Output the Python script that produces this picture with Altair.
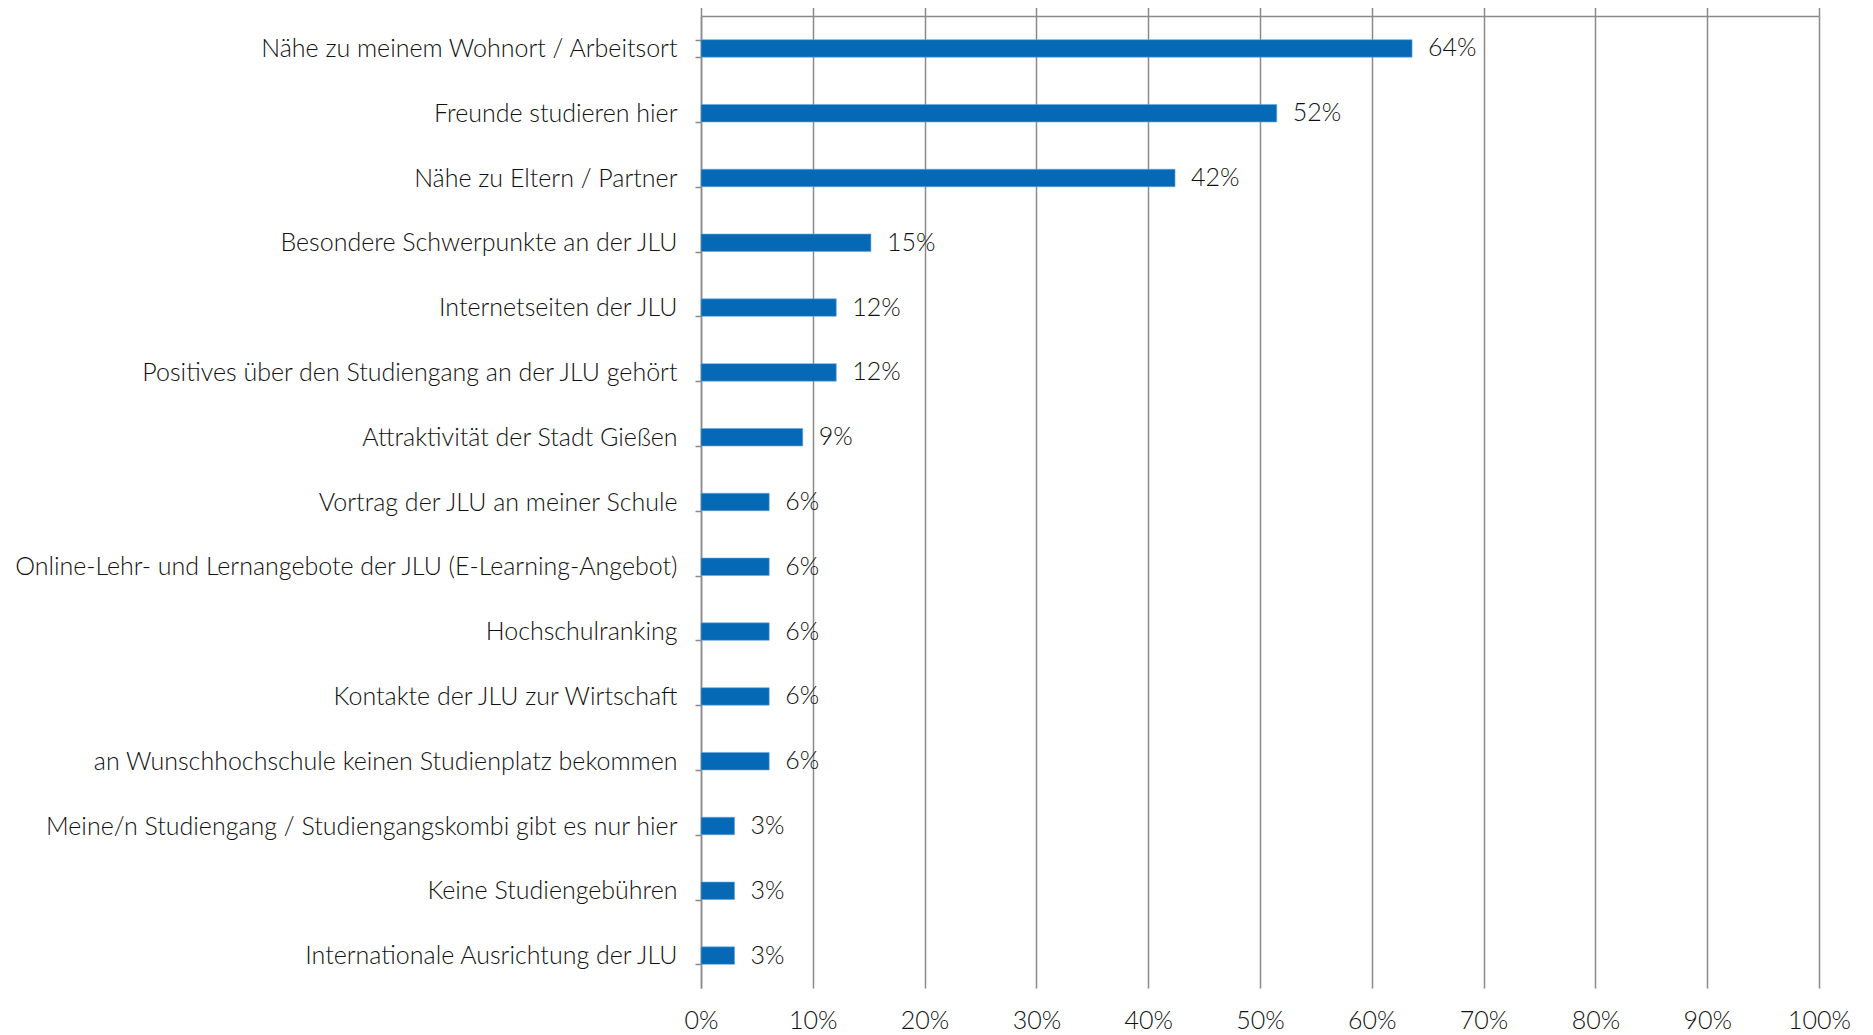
import altair as alt
import pandas as pd

categories = [
    "Nähe zu meinem Wohnort / Arbeitsort\u2002",
    "Freunde studieren hier",
    "Nähe zu Eltern / Partner",
    "Besondere Schwerpunkte an der JLU",
    "Internetseiten der JLU",
    "Positives über den Studiengang an der JLU gehört",
    "Attraktivität der Stadt Gießen\u2002",
    "Vortrag der JLU an meiner Schule",
    "Online-Lehr- und Lernangebote der JLU (E-Learning-Angebot)",
    "Hochschulranking\u2002",
    "Kontakte der JLU zur Wirtschaft\u2002",
    "an Wunschhochschule keinen Studienplatz bekommen",
    "Meine/n Studiengang / Studiengangskombi gibt es nur hier",
    "Keine Studiengebühren\u2002",
    "Internationale Ausrichtung der JLU",
]
values = [63.6, 51.5, 42.4, 15.2, 12.1, 12.1, 9.1, 6.1, 6.1, 6.1, 6.1, 6.1, 3.0, 3.0, 3.0]
value_labels = ["64%", "52%", "42%", "15%", "12%", "12%", "9%", "6%", "6%", "6%", "6%", "6%", "3%", "3%", "3%"]
x_ticks = [0, 10, 20, 30, 40, 50, 60, 70, 80, 90, 100]

df = pd.DataFrame({"cat": categories, "v": values, "lbl": value_labels})

FONT = "Lato"
FS = 25
GRAY = "#8a8a8a"
BLUE = "#0569b6"
TXT = "#111111"

y_enc = alt.Y(
    "cat:N",
    sort=categories,
    title=None,
    scale=alt.Scale(paddingInner=0.73, paddingOuter=0.365),
    axis=alt.Axis(
        orient="left",
        domain=True,
        domainColor=GRAY,
        domainWidth=1.5,
        ticks=True,
        tickBand="extent",
        tickColor=GRAY,
        tickWidth=1.5,
        tickSize=6,
        labelPadding=18,
        labelFont=FONT,
        labelFontWeight=300,
        labelFontSize=FS,
        labelColor=TXT,
        labelLimit=900,
        grid=False,
    ),
)

x_scale = alt.Scale(domain=[0, 100], nice=False)

bars = alt.Chart(df).mark_bar(color=BLUE, stroke="#6aa6da", strokeWidth=0.6).encode(
    x=alt.X(
        "v:Q",
        scale=x_scale,
        title=None,
        axis=alt.Axis(
            orient="bottom",
            values=x_ticks,
            labelExpr="datum.value + '%'",
            domain=False,
            ticks=False,
            grid=True,
            gridColor=GRAY,
            gridWidth=1.5,
            labelPadding=20,
            labelFont=FONT,
            labelFontWeight=300,
            labelFontSize=FS,
            labelColor=TXT,
            labelFlush=False,
        ),
    ),
    y=y_enc,
)

texts = alt.Chart(df).mark_text(
    align="left", baseline="middle", dx=16, font=FONT, fontWeight=300, fontSize=FS, color=TXT
).encode(
    x=alt.X(
        "v:Q",
        scale=x_scale,
        title=None,
        axis=alt.Axis(
            orient="top",
            values=x_ticks,
            labels=False,
            domain=True,
            domainColor=GRAY,
            domainWidth=1.5,
            ticks=True,
            tickColor=GRAY,
            tickWidth=1.5,
            tickSize=9,
            grid=False,
        ),
    ),
    y=alt.Y("cat:N", sort=categories),
    text="lbl:N",
)

chart = (
    alt.layer(bars, texts)
    .properties(
        width=1118,
        height=972,
        autosize=alt.AutoSizeParams(type="none"),
        padding={"left": 693, "top": 8, "right": 46, "bottom": 55},
    )
    .configure_view(stroke=None)
)

chart.save("out.html", embed_options={"renderer": "svg", "actions": False})
